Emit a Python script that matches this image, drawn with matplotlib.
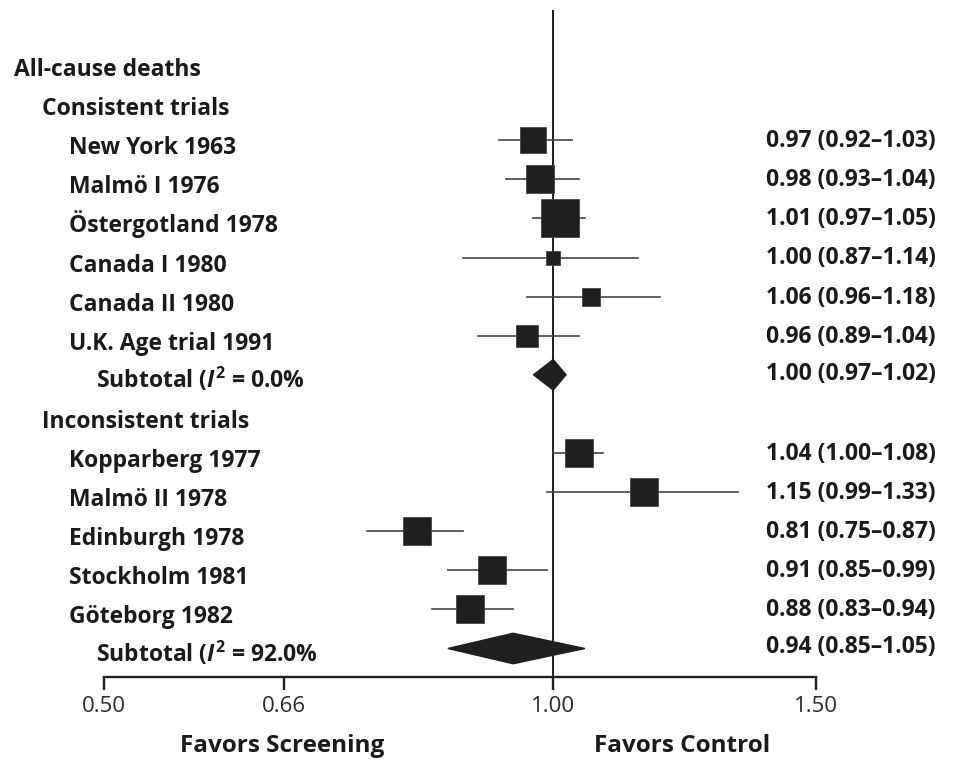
import matplotlib
matplotlib.use('Agg')
import matplotlib.pyplot as plt
from matplotlib.patches import Polygon
import numpy as np

# Forest plot rows, top to bottom
trials = ["New York 1963", "Malmö I 1976", "Östergotland 1978", "Canada I 1980",
          "Canada II 1980", "U.K. Age trial 1991",
          "Kopparberg 1977", "Malmö II 1978", "Edinburgh 1978", "Stockholm 1981",
          "Göteborg 1982"]
rr = [0.97, 0.98, 1.01, 1.00, 1.06, 0.96, 1.04, 1.15, 0.81, 0.91, 0.88]
ci_low = [0.92, 0.93, 0.97, 0.87, 0.96, 0.89, 1.00, 0.99, 0.75, 0.85, 0.83]
ci_high = [1.03, 1.04, 1.05, 1.14, 1.18, 1.04, 1.08, 1.33, 0.87, 0.99, 0.94]
weights = [6.3, 8.4, 14.4, 2.0, 3.2, 4.8, 8.4, 7.3, 8.4, 7.8, 7.8]

subtotal_i2 = ["0.0", "92.0"]
subtotal_rr = [1.00, 0.94]
subtotal_low = [0.97, 0.85]
subtotal_high = [1.02, 1.05]

x_ticks = [0.50, 0.66, 1.00, 1.50]
x_tick_labels = ["0.50", "0.66", "1.00", "1.50"]

# row index of each element
trial_rows = [2, 3, 4, 5, 6, 7, 10, 11, 12, 13, 14]
subtotal_rows = [8, 15]
headers = [("All-cause deaths", 0, 14), ("Consistent trials", 1, 42),
           ("Inconsistent trials", 9, 42)]

plt.rcParams['font.family'] = ['Open Sans', 'DejaVu Sans']
plt.rcParams['mathtext.fontset'] = 'custom'
plt.rcParams['mathtext.rm'] = 'Open Sans:bold'
plt.rcParams['mathtext.it'] = 'Open Sans:bold:italic'
plt.rcParams['mathtext.bf'] = 'Open Sans:bold'

W, H = 978, 760
fig = plt.figure(figsize=(W / 100, H / 100), dpi=100)
fig.patch.set_facecolor('white')

ax_left, ax_right = 104, 816
ax_top, ax_bottom = 10, 677
ax = fig.add_axes([ax_left / W, 1 - ax_bottom / H,
                   (ax_right - ax_left) / W, (ax_bottom - ax_top) / H])

# pixel height of row 0 and spacing between rows
row0, row_step = 62, 39.1
ax.set_xscale('log')
ax.set_xlim(0.5, 1.5)
ax.set_ylim((ax_bottom - row0) / row_step, (ax_top - row0) / row_step)

ink = '#1f1f1f'
ax.axvline(1.0, color=ink, lw=1.4, zorder=1)

for y, m, lo, hi, w in zip(trial_rows, rr, ci_low, ci_high, weights):
    ax.plot([lo, hi], [y, y], color='#444444', lw=1.2, zorder=2)
    side = 10 * np.sqrt(w) * 0.72
    ax.plot([m], [y], marker='s', ms=side, color=ink, mec='#444444',
            mew=0.6, zorder=3)

for y, m, lo, hi in zip(subtotal_rows, subtotal_rr, subtotal_low, subtotal_high):
    h = 0.39
    ax.add_patch(Polygon([(lo, y), (m, y - h), (hi, y), (m, y + h)],
                         closed=True, color=ink, zorder=3))

# axis styling: only bottom spine with downward ticks
for s in ['top', 'right', 'left']:
    ax.spines[s].set_visible(False)
ax.spines['bottom'].set_linewidth(1.7)
ax.spines['bottom'].set_color(ink)
ax.set_yticks([])
ax.set_xticks(x_ticks)
ax.set_xticklabels(x_tick_labels)
ax.xaxis.set_minor_locator(matplotlib.ticker.NullLocator())
ax.tick_params(axis='x', direction='out', length=9.5, width=1.7, color=ink,
               labelsize=16, labelcolor='#2a2a2a', pad=4)

label_kw = dict(fontsize=16.5, fontweight='bold', color='#1a1a1a', va='baseline')


def fig_y(row, offset):
    return 1 - (row0 + row * row_step + offset) / H


for text, row, xpx in headers:
    fig.text(xpx / W, fig_y(row, 14), text, **label_kw)

for name, row, m, lo, hi in zip(trials, trial_rows, rr, ci_low, ci_high):
    fig.text(69 / W, fig_y(row, 14), name, **label_kw)
    fig.text(766 / W, fig_y(row, 7), f"{m:.2f} ({lo:.2f}–{hi:.2f})", **label_kw)

for row, i2, m, lo, hi in zip(subtotal_rows, subtotal_i2, subtotal_rr,
                              subtotal_low, subtotal_high):
    fig.text(96 / W, fig_y(row, 13), f"Subtotal ($I^2$ = {i2}%", **label_kw)
    fig.text(766 / W, fig_y(row, 5), f"{m:.2f} ({lo:.2f}–{hi:.2f})", **label_kw)

fig.text(282 / W, 1 - 752 / H, "Favors Screening", ha='center',
         **dict(label_kw, fontsize=17.5))
fig.text(682 / W, 1 - 752 / H, "Favors Control", ha='center',
         **dict(label_kw, fontsize=17.5))

fig.savefig('out.png', dpi=100, facecolor='white')
